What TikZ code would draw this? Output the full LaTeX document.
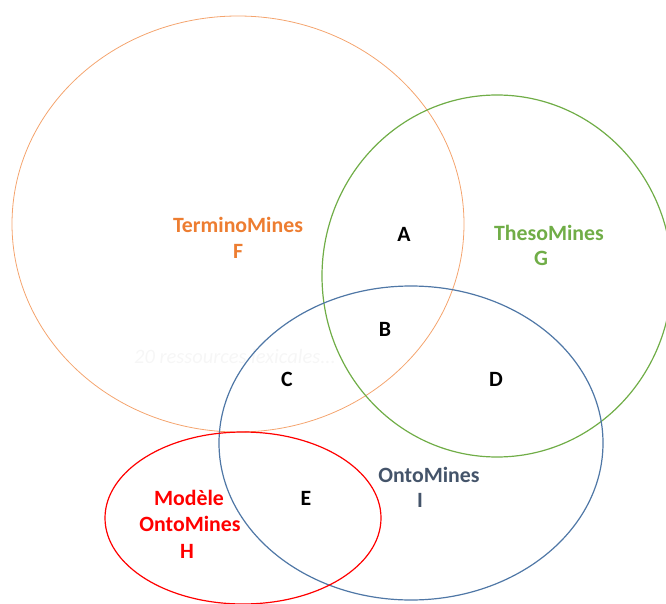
\documentclass[tikz,border=0pt]{standalone}
\usepackage{fontspec}
\setmainfont{Carlito}
\definecolor{corange}{HTML}{ED7D31}
\definecolor{corangeline}{HTML}{F4A46E}
\definecolor{cgreen}{HTML}{70AD47}
\definecolor{cblue}{HTML}{4F77A6}
\definecolor{cslate}{HTML}{44546A}
\definecolor{cred}{HTML}{FF0000}
\definecolor{ghost}{HTML}{F6F6F6}
\begin{document}
\begin{tikzpicture}[x=1pt,y=-1pt,
  lbl/.style={font=\fontsize{21.8}{24}\selectfont\bfseries, inner sep=0pt, align=center},
  setline/.style={line width=1.2pt}]
\useasboundingbox (0,0) rectangle (666,604);
\clip (0,0) rectangle (666,604);
% ghost text
\node[font=\fontsize{20.5}{24}\selectfont\itshape, text=ghost, inner sep=0pt] (ghost) at (235,356) {20 ressources lexicales...};
% sets
\draw[setline, line width=0.8pt, corangeline] (238,224) ellipse [x radius=226, y radius=208];
\draw[setline, cgreen] (497,276) ellipse [x radius=175, y radius=181];
\draw[setline, cblue] (411,443) ellipse [x radius=192, y radius=157];
\draw[setline, cred] (243,518) ellipse [x radius=138, y radius=86];
% labels
\node[lbl, text=corange] (F) at (238,225) {TerminoMines};
\node[lbl, text=corange] (Fl) at (238,251) {F};
\node[lbl, text=cgreen] (G) at (549,233) {ThesoMines};
\node[lbl, text=cgreen] (Gl) at (541,258) {G};
\node[lbl, text=cslate] (I) at (429,475) {OntoMines};
\node[lbl, text=cslate] (Il) at (420,500) {I};
\node[lbl, text=cred] (H1) at (189,498) {Modèle};
\node[lbl, text=cred] (H2) at (190,524) {OntoMines};
\node[lbl, text=cred] (Hl) at (187,551) {H};
\node[lbl] (A) at (404,234) {A};
\node[lbl] (B) at (385,329) {B};
\node[lbl] (C) at (287,379) {C};
\node[lbl] (D) at (496,379) {D};
\node[lbl] (E) at (306,498) {E};
\end{tikzpicture}
\end{document}
